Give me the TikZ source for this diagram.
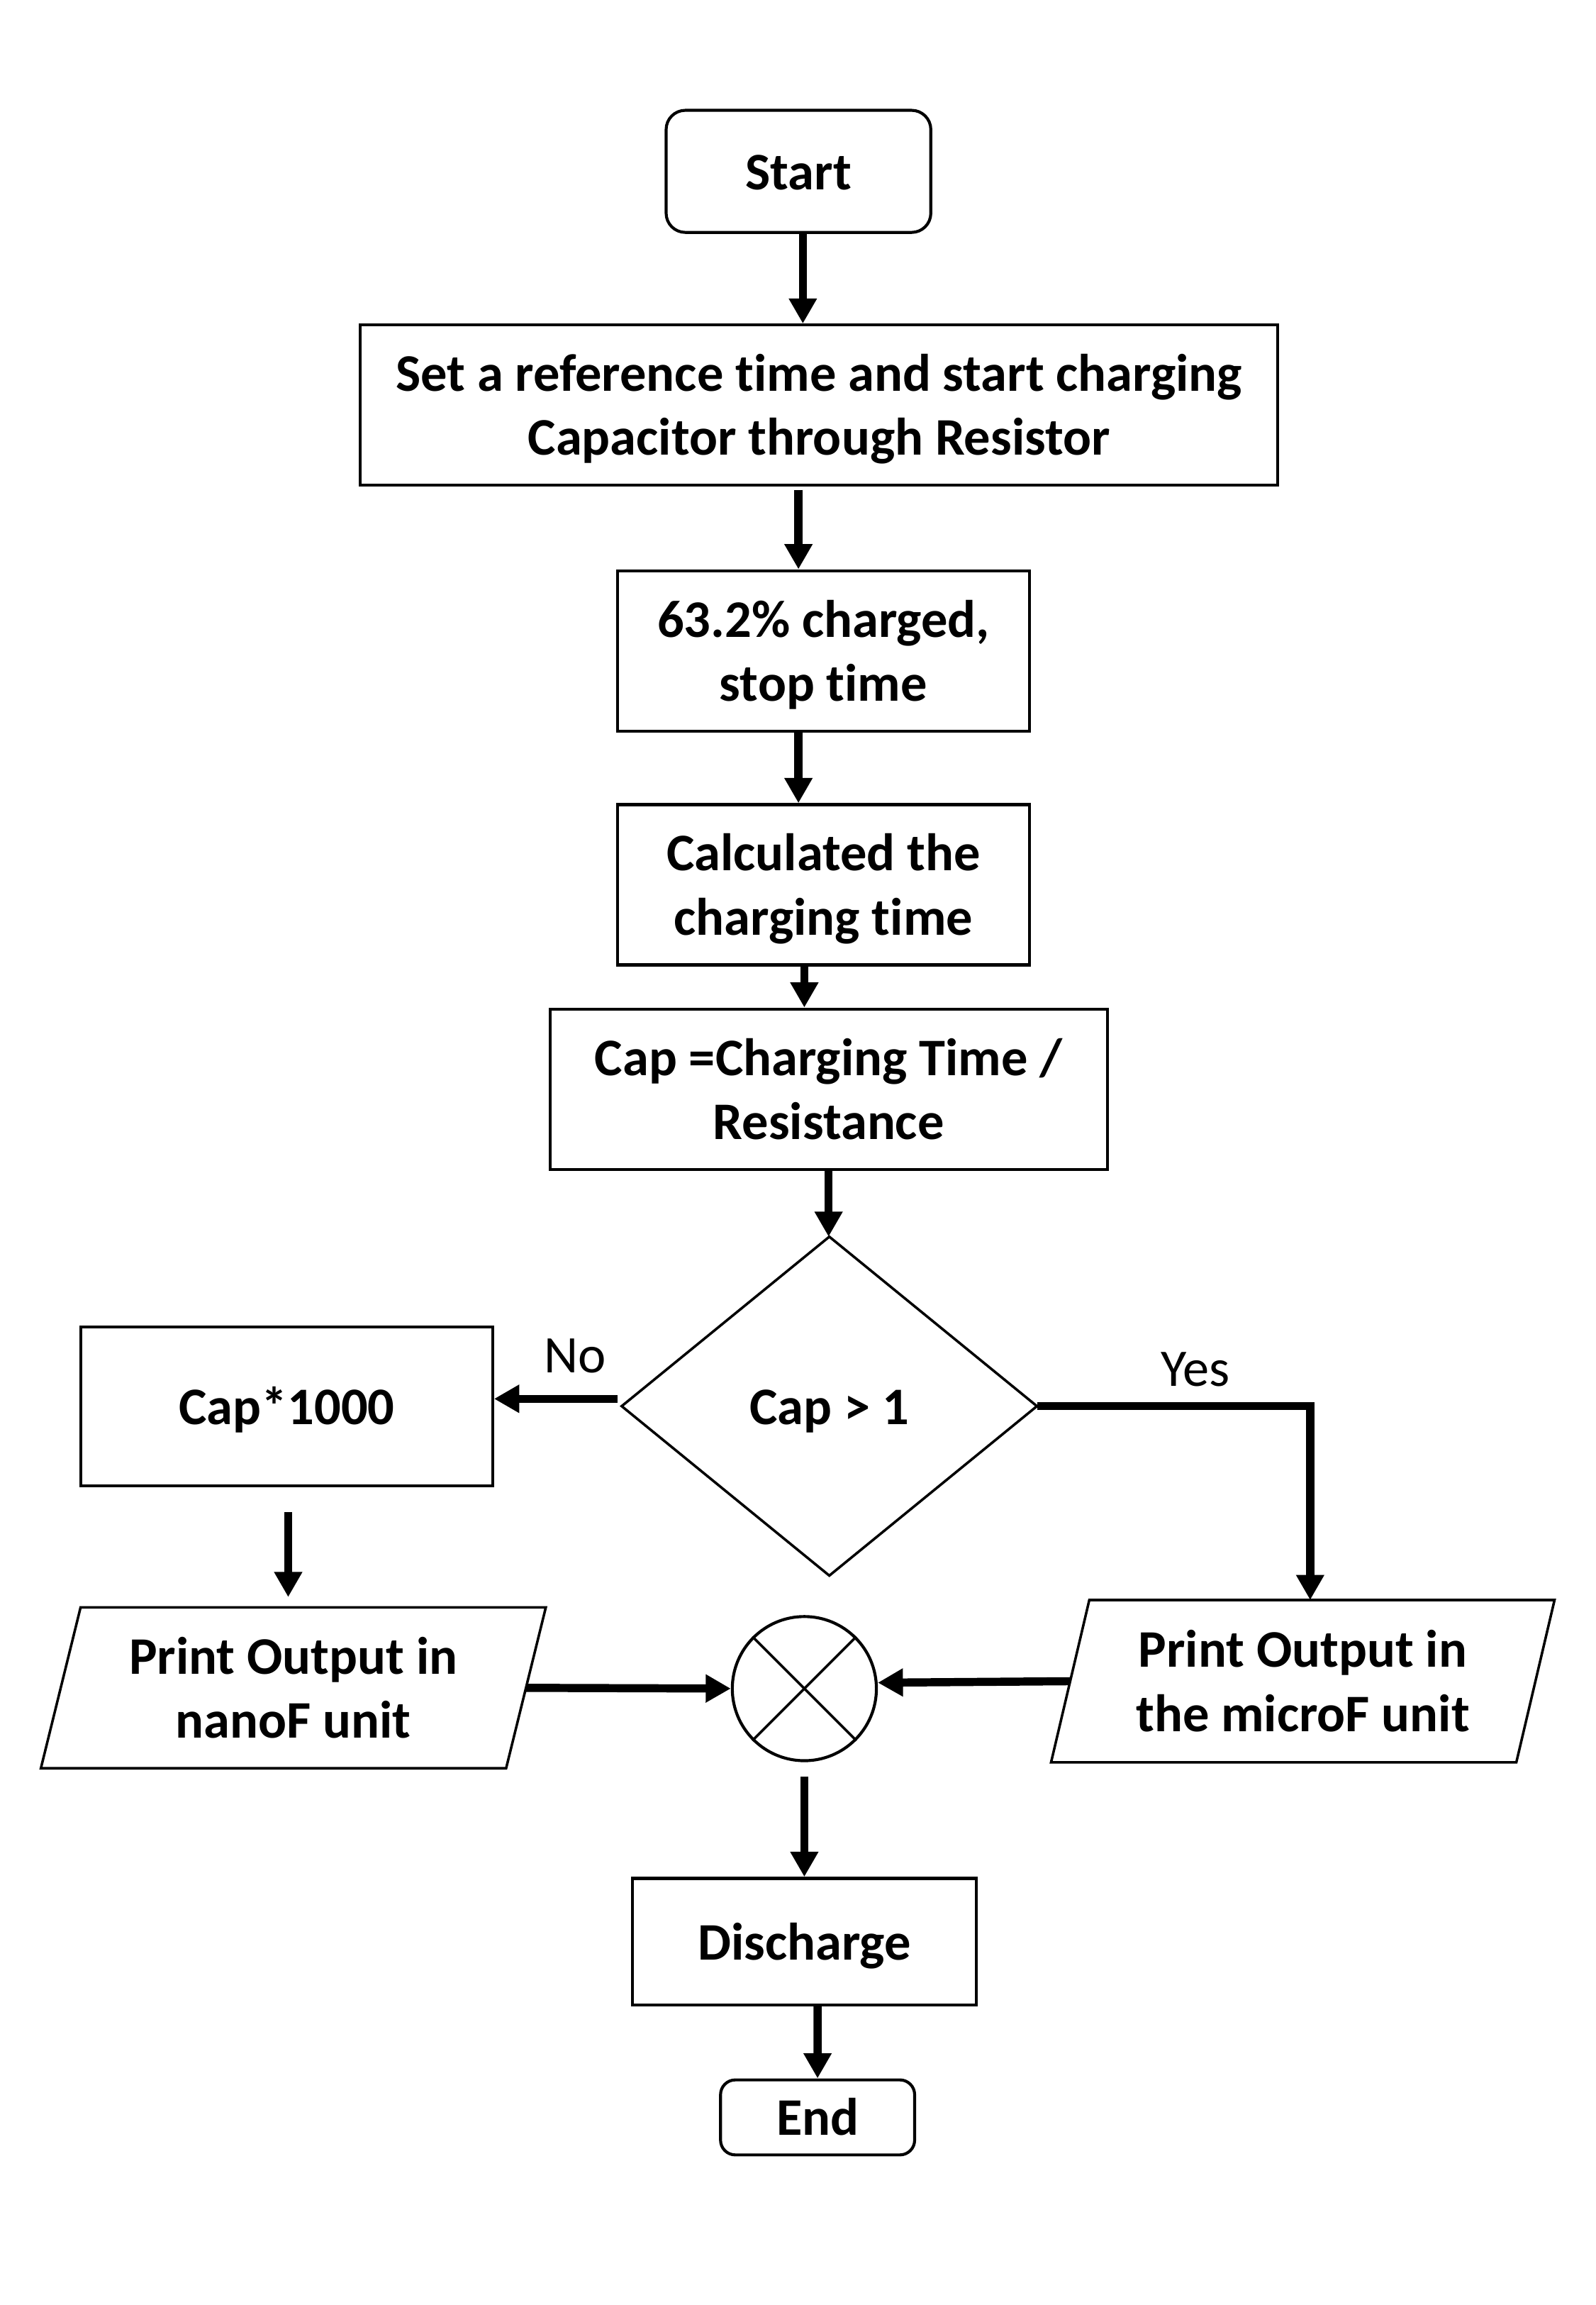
\documentclass[tikz,border=0pt]{standalone}
\usepackage{fontspec}
\setmainfont{Carlito}[Ligatures=NoCommon]
\usetikzlibrary{arrows.meta,calc}
\newcommand{\tstrut}{\rule{0pt}{33.5pt}}
\newcommand{\bstrut}{\rule[-9pt]{0pt}{9pt}}
\begin{document}
\begin{tikzpicture}[x=1pt,y=-1pt,
  box/.style={draw, line width=2pt, inner sep=0pt, align=center, font=\bfseries\fontsize{35.9}{43.5}\selectfont},
  txt/.style={inner sep=0pt, align=center, font=\bfseries\fontsize{35.9}{43.5}\selectfont},
  lbl/.style={inner sep=0pt, font=\fontsize{35.9}{43.5}\selectfont},
  thinline/.style={line width=1.7pt, line join=miter},
  arr/.style={line width=5.5pt, -{Triangle[length=17pt,width=18pt]}}]
\useasboundingbox[fill=white] (0,0) rectangle (1080,1560);
\begin{scope}[scale=0.9955, transform shape]
\node[box, rounded corners=13pt, minimum width=180pt, minimum height=83pt] (start) at (543,116.5) {\tstrut Start\bstrut};
\node[box, minimum width=624pt, minimum height=109pt] (set) at (557,275.5) {\tstrut Set a reference time and start charging\\Capacitor through Resistor\bstrut};
\node[box, minimum width=280pt, minimum height=109pt] (chg) at (560,442.5) {\tstrut 63.2\% charged,\\stop time\bstrut};
\node[box, minimum width=280pt, minimum height=109pt] (calc) at (560,601.5) {\tstrut Calculated the\\charging time\bstrut};
\node[box, minimum width=379pt, minimum height=109pt] (capeq) at (563.5,740.5) {\tstrut Cap =Charging Time /\\Resistance\bstrut};
\node[txt, minimum width=282pt, minimum height=230pt] (dec) at (564,956) {\tstrut Cap > 1\bstrut};
\draw[thinline] (dec.north) -- (dec.east) -- (dec.south) -- (dec.west) -- cycle;
\node[box, minimum width=280pt, minimum height=108pt] (mul) at (195,956) {\tstrut Cap*1000\bstrut};
\node[txt, minimum width=343pt, minimum height=109pt] (nano) at (199.5,1147.5) {\tstrut Print Output in\\nanoF unit\bstrut};
\draw[thinline] ($(nano.north west)+(27,0)$) -- (nano.north east) -- ($(nano.south east)+(-27,0)$) -- (nano.south west) -- cycle;
\node[txt, minimum width=342pt, minimum height=110pt] (micro) at (886,1143) {\tstrut Print Output in\\the microF unit\bstrut};
\draw[thinline] ($(micro.north west)+(26,0)$) -- (micro.north east) -- ($(micro.south east)+(-26,0)$) -- (micro.south west) -- cycle;
\node[circle, draw, line width=2pt, minimum size=98pt, inner sep=0pt] (circ) at (547,1148) {};
\draw[thinline] (circ.north west) -- (circ.south east) (circ.north east) -- (circ.south west);
\node[box, minimum width=234pt, minimum height=86pt] (dis) at (547,1320) {\tstrut Discharge\bstrut};
\node[box, rounded corners=10pt, minimum width=132pt, minimum height=51pt] (end) at (556,1439.5) {\tstrut End\bstrut};
\node[lbl] (no) at (391,922) {No};
\node[lbl] (yes) at (813,931) {Yes};
\draw[arr] ($(start.south)+(3,0)$) -- ($(start.south |- set.north)+(3,0)$);
\draw[arr] ($(set.south)+(-14,2)$) -- ($(set.south |- chg.north)+(-14,0)$);
\draw[arr] ($(chg.south)+(-17,0)$) -- ($(chg.south |- calc.north)+(-17,0)$);
\draw[arr] ($(calc.south)+(-13,0)$) -- ($(calc.south |- capeq.north)+(-13,0)$);
\draw[arr] (capeq.south) -- (capeq.south |- dec.north);
\draw[arr] ($(dec.west)+(-3,-5)$) -- ($(dec.west -| mul.east)+(0,-5)$);
\draw[arr] (dec.east) -| ($(micro.north)+(5,0)$);
\draw[arr] ($(mul.south)+(1,17)$) -- ($(mul.south |- nano.north)+(1,-7)$);
\draw[arr] ($(nano.east)+(-13.5,0)$) -- (circ.west);
\draw[arr] ($(micro.west)+(13,0)$) -- ($(circ.east)+(0,-4)$);
\draw[arr] ($(circ.south)+(0,10)$) -- (dis.north);
\draw[arr] ($(dis.south)+(9,0)$) -- (end.north);
\end{scope}
\end{tikzpicture}
\end{document}
